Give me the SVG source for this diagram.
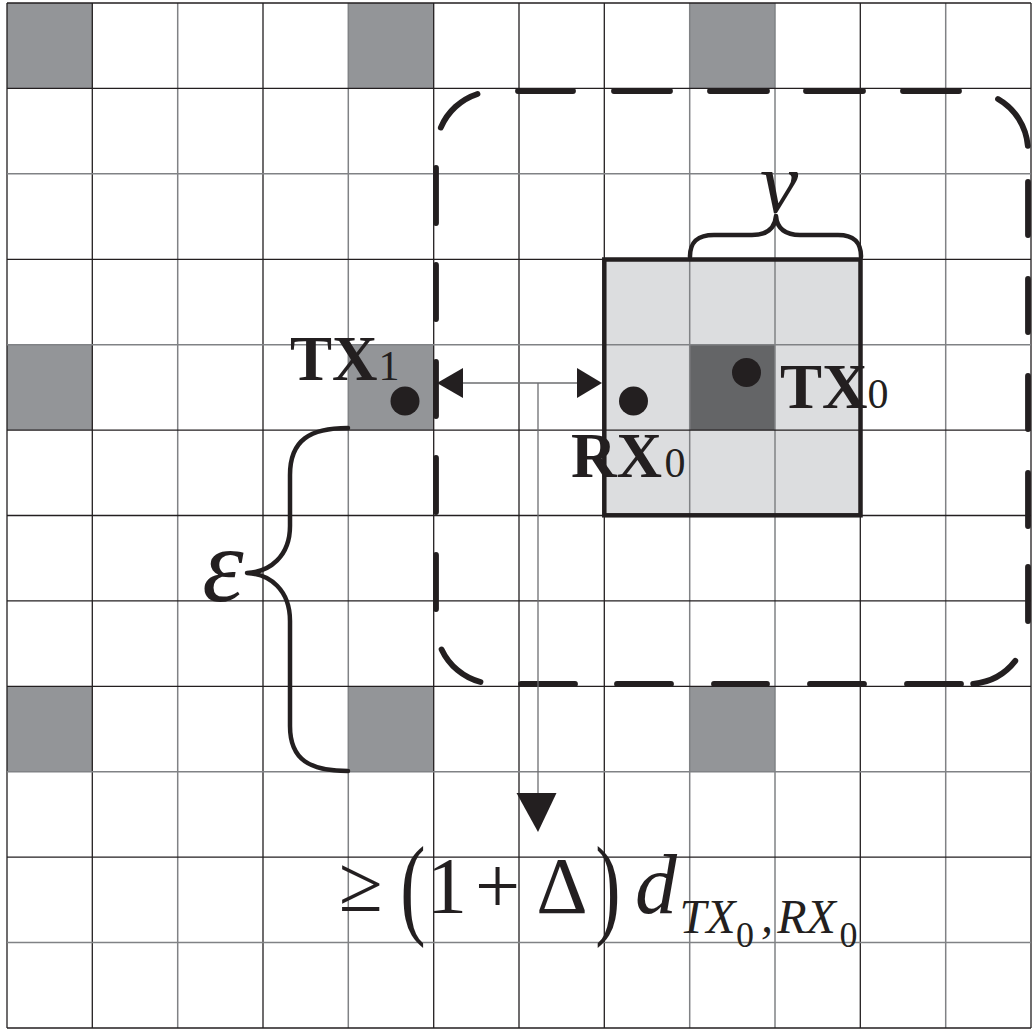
<svg xmlns="http://www.w3.org/2000/svg" width="1033" height="1030" viewBox="0 0 1033 1030">
<style>
.cell{fill:#939598}
.lite{fill:#dcdddf}
.dark{fill:#646567}
.gd{stroke:#231f20;stroke-width:1.3;fill:none}
.gg{stroke:#808285;stroke-width:1.5;fill:none}
.dash{stroke:#231f20;stroke-width:5.8;stroke-linecap:round;fill:none}
.brace{stroke:#231f20;stroke-width:4.5;stroke-linecap:round;stroke-linejoin:round;fill:none}
.thin{stroke:#6d6e71;stroke-width:1.3;fill:none}
.head{fill:#231f20}
.dot{fill:#231f20}
.lbl{font-family:"Liberation Serif","Times New Roman",serif;font-weight:bold;font-size:63px;fill:#231f20}
.sub{font-family:"Liberation Serif","Times New Roman",serif;font-size:42px;fill:#231f20}
.m{font-family:"Liberation Serif","Times New Roman",serif;fill:#231f20}
.it{font-style:italic}
</style>
<rect x="0" y="0" width="1033" height="1030" fill="#ffffff"/>
<g id="grid-cells">
<rect class="cell" x="7" y="3" width="85.3" height="85.4"/>
<rect class="cell" x="348.3" y="3" width="85.4" height="85.4"/>
<rect class="cell" x="689.7" y="3" width="85.3" height="85.4"/>
<rect class="cell" x="7" y="344.7" width="85.3" height="85.4"/>
<rect class="cell" x="348.3" y="344.7" width="85.4" height="85.4"/>
<rect class="cell" x="7" y="686.3" width="85.3" height="85.5"/>
<rect class="cell" x="348.3" y="686.3" width="85.4" height="85.5"/>
<rect class="cell" x="689.7" y="686.3" width="85.3" height="85.5"/>
</g>
<g id="region-nu">
<rect class="lite" x="604.3" y="259.3" width="256" height="256.2"/>
<rect class="dark" x="689.7" y="344.7" width="85.3" height="85.4"/>
</g>
<g id="grid-lines">
<path class="gd" d="M7 3V1028M92.3 3V1028M263 3V1028M433.7 3V1028M519 3V1028M604.3 3V1028M860.3 3V1028M1031 3V1028"/>
<path class="gg" d="M177.7 3V1028M348.3 3V1028M689.7 3V1028M775 3V1028M945.7 3V1028"/>
<path class="gd" d="M7 3H1031M7 88.4H1031M7 259.3H1031M7 430.1H1031M7 515.5H1031M7 600.9H1031M7 686.3H1031M7 857.2H1031M7 1028H1031"/>
<path class="gg" d="M7 173.8H1031M7 344.7H1031M7 771.8H1031M7 942.6H1031"/>
</g>
<g id="region-border">
<rect x="604.3" y="259.5" width="256.2" height="255.8" fill="none" stroke="#231f20" stroke-width="4.5"/>
</g>
<g id="interference-zone">
<path class="dash" d="M518 91H573M614 91H670M710 91H767M806 91H863M903 91H959"/>
<path class="dash" d="M521 684H575M617 684H671M714 684H767M810 684H864M907 684H961"/>
<path class="dash" d="M436 168V223M436 265V319M436 362V416M436 458V512M436 555V609"/>
<path class="dash" d="M1028 182V235M1028 279V332M1028 376V429M1028 473V526M1028 567V621"/>
<path class="dash" d="M440.8 127.6A60 60 0 0 1 477.5 93.9"/>
<path class="dash" d="M998 99A60 60 0 0 1 1027.8 145.8"/>
<path class="dash" d="M1015.3 660.9A60 60 0 0 1 973.2 683.8"/>
<path class="dash" d="M480.5 682A60 60 0 0 1 441.6 649.4"/>
</g>
<g id="connectors">
<path class="thin" d="M462 383H578"/>
<path class="thin" d="M538 383V794"/>
<polygon class="head" points="437,383 463,368 463,398"/>
<polygon class="head" points="602,383 577,368 577,398"/>
<polygon class="head" points="538,832 516.5,793 556.5,793"/>
</g>
<g id="brace-nu">
<path class="brace" d="M690 257C690 242 697 235 714 235H752C766 235 775 229 776 216C777 229 786 235 800 235H838C854 235 861 242 861 257"/>
<text class="m it" x="779" y="212" font-size="86" text-anchor="middle">ν</text>
</g>
<g id="brace-epsilon">
<path class="brace" d="M348 428C310 428 290 440 290 475V526C290 556 270 572 247 573C270 574 290 590 290 621V726C290 760 310 771 348 771"/>
<text class="m it" x="223" y="601" font-size="105" text-anchor="middle">ε</text>
</g>
<g id="node-tx1">
<circle class="dot" cx="405" cy="401" r="14.5"/>
<text class="lbl" x="290" y="380">TX</text>
<text class="sub" x="389" y="380" text-anchor="middle">1</text>
</g>
<g id="node-tx0">
<circle class="dot" cx="746.5" cy="372.5" r="14.5"/>
<text class="lbl" x="780" y="408">TX</text>
<text class="sub" x="878" y="408" text-anchor="middle">0</text>
</g>
<g id="node-rx0">
<circle class="dot" cx="633.5" cy="401" r="14.5"/>
<text class="lbl" x="571" y="477">RX</text>
<text class="sub" x="675" y="477" text-anchor="middle">0</text>
</g>
<g id="formula">
<text class="m" x="361" y="911" font-size="80" text-anchor="middle">≥</text>
<text class="m" transform="translate(413,924) scale(0.95,1.4)" font-size="80" text-anchor="middle">(</text>
<text class="m" x="447" y="913" font-size="80" text-anchor="middle">1</text>
<text class="m" x="497.5" y="913" font-size="80" text-anchor="middle">+</text>
<text class="m" x="562" y="913" font-size="80" text-anchor="middle">Δ</text>
<text class="m" transform="translate(608,924) scale(0.95,1.4)" font-size="80" text-anchor="middle">)</text>
<text class="m it" x="656" y="913" font-size="84" text-anchor="middle">d</text>
<text class="m it" x="707.5" y="933" font-size="48" text-anchor="middle">TX</text>
<text class="m" x="745" y="946.5" font-size="36" text-anchor="middle">0</text>
<text class="m it" x="767" y="932" font-size="48" text-anchor="middle">,</text>
<text class="m it" x="806.5" y="933" font-size="48" text-anchor="middle">RX</text>
<text class="m" x="848.5" y="946.5" font-size="36" text-anchor="middle">0</text>
</g>
</svg>
